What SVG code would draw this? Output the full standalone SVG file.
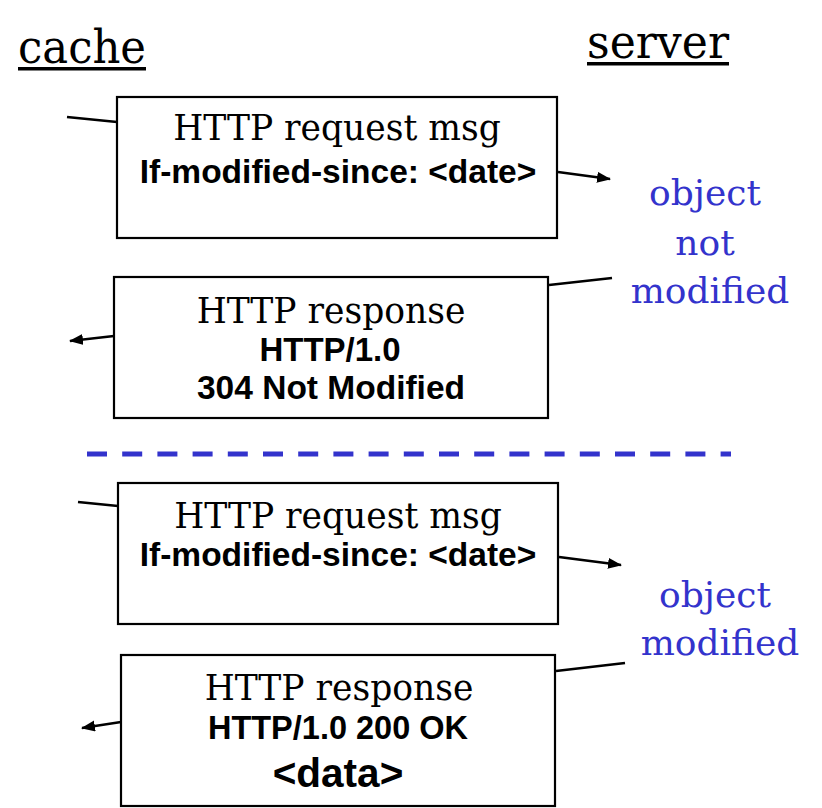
<svg xmlns="http://www.w3.org/2000/svg" width="822" height="808" viewBox="0 0 822 808">
<style>
.box{fill:#fff;stroke:#000;stroke-width:2.2}
.serif{font-family:"DejaVu Serif","Liberation Serif",serif;fill:#000}
.t{font-size:34.5px}
.bold{font-family:"Liberation Sans",Arial,sans-serif;font-weight:bold;fill:#000}
.blue{font-family:"DejaVu Serif","Liberation Serif",serif;font-size:36px;fill:#3333cc}
.conn{stroke:#000;stroke-width:2.5;fill:none}
</style>
<defs>
<marker id="ah" markerUnits="userSpaceOnUse" markerWidth="16" markerHeight="12" refX="13" refY="5.5" orient="auto">
<path d="M0,0 L14,5.5 L0,11 Z" fill="#000"/>
</marker>
</defs>
<rect width="822" height="808" fill="#fff"/>
<g id="header-cache">
<text class="serif" x="18" y="63" font-size="47" textLength="128" lengthAdjust="spacingAndGlyphs">cache</text>
<rect x="18" y="67" width="128" height="3.5" fill="#000"/>
</g>
<g id="header-server">
<text class="serif" x="587" y="58" font-size="47" textLength="142" lengthAdjust="spacingAndGlyphs">server</text>
<rect x="587" y="62" width="142" height="3.5" fill="#000"/>
</g>
<g id="connectors">
<line class="conn" x1="67" y1="117" x2="117" y2="122"/>
<line class="conn" x1="558" y1="172" x2="610" y2="179" marker-end="url(#ah)"/>
<line class="conn" x1="549" y1="285" x2="612" y2="278"/>
<line class="conn" x1="114" y1="336" x2="70" y2="341" marker-end="url(#ah)"/>
<line class="conn" x1="78" y1="502" x2="118" y2="506"/>
<line class="conn" x1="559" y1="557" x2="621" y2="565" marker-end="url(#ah)"/>
<line class="conn" x1="556" y1="671" x2="625" y2="663"/>
<line class="conn" x1="121" y1="722" x2="82" y2="728" marker-end="url(#ah)"/>
</g>
<g id="req1">
<rect class="box" x="117" y="97" width="440" height="141"/>
<text class="serif t" x="337" y="140" text-anchor="middle">HTTP request msg</text>
<text class="bold" x="338" y="183" font-size="33.5" text-anchor="middle">If-modified-since: &lt;date&gt;</text>
</g>
<g id="resp1">
<rect class="box" x="114" y="277" width="434" height="141"/>
<text class="serif t" x="331" y="323" text-anchor="middle">HTTP response</text>
<text class="bold" x="330" y="361" font-size="33" text-anchor="middle">HTTP/1.0</text>
<text class="bold" x="331" y="399" font-size="33.5" text-anchor="middle">304 Not Modified</text>
</g>
<g id="note1">
<text class="blue" text-anchor="middle"><tspan x="705" y="205">object</tspan><tspan x="705" y="255">not</tspan><tspan x="710" y="303">modified</tspan></text>
</g>
<g id="separator">
<line x1="87" y1="454" x2="731" y2="454" stroke="#3333cc" stroke-width="5" stroke-dasharray="20 15.2"/>
</g>
<g id="req2">
<rect class="box" x="118" y="483" width="440" height="141"/>
<text class="serif t" x="338" y="528" text-anchor="middle">HTTP request msg</text>
<text class="bold" x="338" y="566" font-size="33.5" text-anchor="middle">If-modified-since: &lt;date&gt;</text>
</g>
<g id="resp2">
<rect class="box" x="121" y="655" width="434" height="151"/>
<text class="serif t" x="339" y="700" text-anchor="middle">HTTP response</text>
<text class="bold" x="338" y="739" font-size="32.5" text-anchor="middle">HTTP/1.0 200 OK</text>
<text class="bold" x="338" y="787" font-size="40.5" text-anchor="middle">&lt;data&gt;</text>
</g>
<g id="note2">
<text class="blue" text-anchor="middle"><tspan x="715" y="607">object</tspan><tspan x="720" y="655">modified</tspan></text>
</g>
</svg>
